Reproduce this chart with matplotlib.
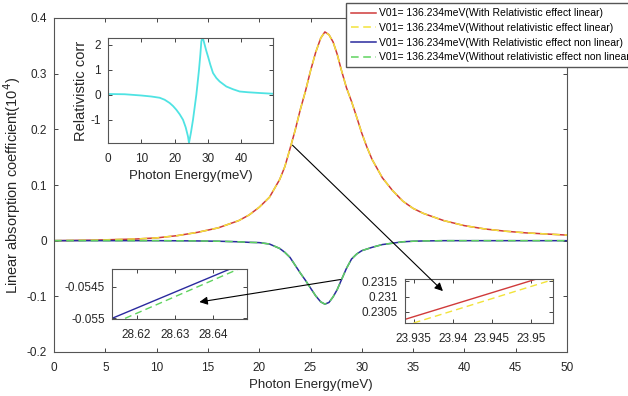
import matplotlib
matplotlib.use("Agg")
import matplotlib.pyplot as plt
from matplotlib.patches import FancyArrowPatch
from matplotlib.ticker import FuncFormatter

plt.rcParams['font.family'] = ['Liberation Sans', 'DejaVu Sans']
plt.rcParams['axes.unicode_minus'] = False

# --- data ---
energy = [0, 2, 4, 6, 8, 10, 12, 14, 16, 18, 19, 20, 21, 22, 22.5, 23, 23.5, 24,
          24.5, 25, 25.5, 26, 26.4, 26.8, 27.2, 27.6, 28, 28.5, 29, 29.5, 30, 30.5,
          31, 32, 33, 34, 35, 36, 38, 40, 42, 44, 46, 48, 50]
alpha_lin_rel = [0.000, 0.0005, 0.001, 0.002, 0.003, 0.005, 0.009, 0.015, 0.023,
                 0.036, 0.046, 0.060, 0.078, 0.110, 0.133, 0.165, 0.198, 0.235,
                 0.268, 0.305, 0.338, 0.364, 0.375, 0.370, 0.357, 0.335, 0.307,
                 0.275, 0.250, 0.222, 0.193, 0.168, 0.146, 0.113, 0.090, 0.071,
                 0.058, 0.049, 0.036, 0.027, 0.021, 0.017, 0.014, 0.012, 0.010]
alpha_lin_norel = [0.000, 0.0005, 0.001, 0.002, 0.003, 0.005, 0.009, 0.015, 0.023,
                   0.036, 0.046, 0.060, 0.078, 0.110, 0.133, 0.165, 0.198, 0.235,
                   0.268, 0.305, 0.338, 0.364, 0.375, 0.370, 0.357, 0.335, 0.307,
                   0.275, 0.250, 0.222, 0.193, 0.168, 0.146, 0.113, 0.090, 0.071,
                   0.058, 0.049, 0.036, 0.027, 0.021, 0.017, 0.014, 0.012, 0.010]
alpha_nl_rel = [0.0, 0.0, 0.0, 0.0, 0.0, 0.0, -0.0002, -0.0005, -0.001, -0.002,
                -0.003, -0.0035, -0.006, -0.014, -0.021, -0.030, -0.044, -0.058,
                -0.071, -0.085, -0.099, -0.110, -0.114, -0.111, -0.101, -0.088,
                -0.071, -0.050, -0.033, -0.024, -0.018, -0.015, -0.012, -0.007,
                -0.0045, -0.002, -0.001, -0.0005, 0.0, 0.0, 0.0, 0.0, 0.0, 0.0, 0.0]
alpha_nl_norel = [0.0, 0.0, 0.0, 0.0, 0.0, 0.0, -0.0002, -0.0005, -0.001, -0.002,
                  -0.003, -0.0035, -0.006, -0.014, -0.021, -0.030, -0.044, -0.058,
                  -0.071, -0.085, -0.099, -0.110, -0.114, -0.111, -0.101, -0.088,
                  -0.071, -0.050, -0.033, -0.024, -0.018, -0.015, -0.012, -0.007,
                  -0.0045, -0.002, -0.001, -0.0005, 0.0, 0.0, 0.0, 0.0, 0.0, 0.0, 0.0]

# relativistic correction (top-left inset)
corr_energy = [0, 5, 10, 13, 15.5, 17, 18.5, 19.5, 20.5, 21.5, 22.5, 23.3, 24, 24.3,
               24.9, 25.5, 26, 26.5, 27, 27.3, 27.7, 28, 28.25, 28.6, 29, 29.5, 30,
               30.7, 31.5, 32.5, 33.5, 35.5, 37.5, 39.5, 42, 45.5, 49.5]
corr_value = [0.03, 0.02, -0.03, -0.07, -0.12, -0.2, -0.33, -0.45, -0.6, -0.78, -1.0,
              -1.3, -1.67, -1.93, -1.5, -1.0, -0.5, 0.0, 0.62, 1.0, 1.6, 2.13, 2.27,
              2.2, 2.0, 1.75, 1.53, 1.2, 0.87, 0.67, 0.53, 0.33, 0.22, 0.13, 0.1,
              0.07, 0.04]

# zoomed segments (bottom insets)
zoom_nl_x_rel = [28.6136, 28.6444]
zoom_nl_y_rel = [-0.05500, -0.05422]
zoom_nl_x_norel = [28.6170, 28.6466]
zoom_nl_y_norel = [-0.05500, -0.05422]
zoom_lin_x_rel = [23.9339, 23.9507]
zoom_lin_y_rel = [0.23025, 0.23158]
zoom_lin_x_norel = [23.9350, 23.9528]
zoom_lin_y_norel = [0.23013, 0.23156]

labels = ['V01= 136.234meV(With Relativistic effect linear)',
          'V01= 136.234meV(Without relativistic effect linear)',
          'V01= 136.234meV(With Relativistic effect non linear)',
          'V01= 136.234meV(Without relativistic effect non linear)']

RED = '#d03a3a'
YELLOW = '#f2e33a'
BLUE = '#2a2a9e'
GREEN = '#5fd35f'
CYAN = '#4fe3e3'
TXT = '#262626'
FRAME = '#555555'

W, H = 628, 396
fig = plt.figure(figsize=(W / 100, H / 100), dpi=100)


def px_axes(left, top, right, bottom):
    return fig.add_axes([left / W, 1 - bottom / H, (right - left) / W, (bottom - top) / H])


fmt = FuncFormatter(lambda v, p: '%g' % v)


def style(ax, size=8.5):
    ax.tick_params(direction='in', top=True, right=True, length=3, width=0.6,
                   labelsize=size, colors=TXT)
    ax.tick_params(axis='x', pad=7)
    ax.tick_params(axis='y', pad=5)
    for s in ax.spines.values():
        s.set_color(FRAME)
        s.set_linewidth(0.8)
    ax.xaxis.set_major_formatter(fmt)
    ax.yaxis.set_major_formatter(fmt)


# main axes
ax = px_axes(54, 18, 567, 352)
l1, = ax.plot(energy, alpha_lin_rel, color=RED, lw=1.1)
l2, = ax.plot(energy, alpha_lin_norel, color=YELLOW, lw=1.1, dashes=(5, 3))
l3, = ax.plot(energy, alpha_nl_rel, color=BLUE, lw=1.1)
l4, = ax.plot(energy, alpha_nl_norel, color=GREEN, lw=1.1, dashes=(5, 3))
ax.set_xlim(0, 50)
ax.set_ylim(-0.2, 0.4)
ax.set_xticks(range(0, 51, 5))
ax.set_yticks([-0.2, -0.1, 0, 0.1, 0.2, 0.3, 0.4])
style(ax)
ax.set_xlabel('Photon Energy(meV)', fontsize=9.5, color=TXT, labelpad=4)
ax.set_ylabel('Linear absorption coefficient(10$^4$)', fontsize=10.5, color=TXT, labelpad=3)

# inset: relativistic correction
ai = px_axes(108, 38, 273, 143)
ai.plot(corr_energy, corr_value, color=CYAN, lw=1.3)
ai.set_xlim(0, 49.5)
ai.set_ylim(-1.93, 2.27)
ai.set_xticks([0, 10, 20, 30, 40])
ai.set_yticks([-1, 0, 1, 2])
style(ai)
ai.set_xlabel('Photon Energy(meV)', fontsize=9.5, color=TXT, labelpad=4)
ai.set_ylabel('Relativistic corr', fontsize=10.5, color=TXT, labelpad=2)

# inset: non linear zoom
a2 = px_axes(112, 269, 247, 319)
a2.plot(zoom_nl_x_rel, zoom_nl_y_rel, color=BLUE, lw=1.0)
a2.plot(zoom_nl_x_norel, zoom_nl_y_norel, color=GREEN, lw=1.0, dashes=(5, 3))
a2.set_xlim(28.6136, 28.6488)
a2.set_ylim(-0.05501, -0.05422)
a2.set_xticks([28.62, 28.63, 28.64])
a2.set_yticks([-0.055, -0.0545])
style(a2)

# inset: linear zoom
a3 = px_axes(405, 279, 553, 323)
a3.plot(zoom_lin_x_rel, zoom_lin_y_rel, color=RED, lw=1.0)
a3.plot(zoom_lin_x_norel, zoom_lin_y_norel, color=YELLOW, lw=1.0, dashes=(5, 3))
a3.set_xlim(23.9339, 23.9528)
a3.set_ylim(0.23013, 0.23158)
a3.set_xticks([23.935, 23.94, 23.945, 23.95])
a3.set_yticks([0.2305, 0.231, 0.2315])
style(a3)

# arrows from the curves to the zoom boxes
for start, end in [((23.05, 0.175), (38.1, -0.094)), ((28.2, -0.069), (13.9, -0.111))]:
    arr = FancyArrowPatch(start, end, transform=ax.transData, arrowstyle='-|>',
                          mutation_scale=12, color='black', lw=0.8, zorder=10)
    fig.add_artist(arr)

# legend (sticks out of the figure on the right, as in the original)
fig.legend([l1, l2, l3, l4], labels, loc='upper left',
           bbox_to_anchor=(346 / W, 1 - 3 / H), fontsize=7.5, frameon=True,
           fancybox=False, edgecolor=FRAME, framealpha=1, borderaxespad=0,
           borderpad=0.5, handlelength=2.4, handletextpad=0.3, labelspacing=0.45)

fig.savefig('out.png', dpi=100)
